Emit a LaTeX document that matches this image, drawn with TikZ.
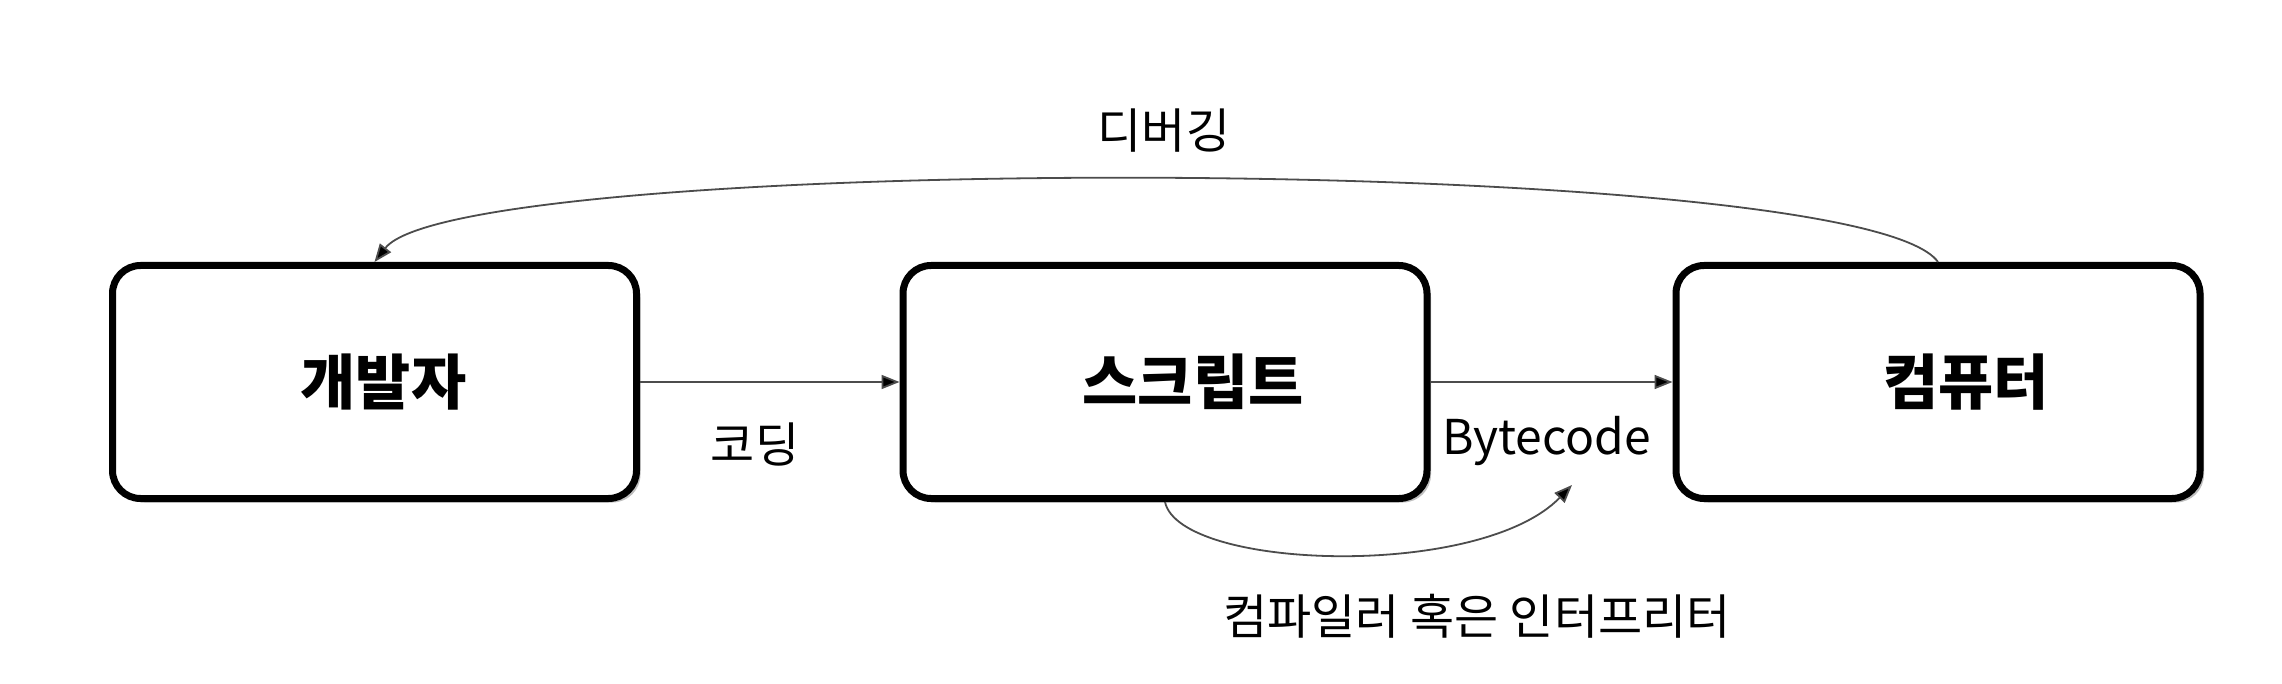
\documentclass[tikz,border=0pt]{standalone}
\usepackage{fontspec}
\setmainfont{Noto Sans CJK KR}
\usetikzlibrary{arrows.meta,shadows}
\begin{document}
\begin{tikzpicture}[x=0.5pt,y=-0.5pt,
  box/.style={draw=black, line width=3.5pt, rounded corners=14pt, fill=white,
    minimum width=262pt, minimum height=116.5pt, inner sep=0pt,
    font=\fontsize{30}{35}\selectfont\bfseries,
    drop shadow={shadow xshift=2pt, shadow yshift=-2pt, opacity=0.25, fill=black}},
  conn/.style={draw=black!70, line width=0.9pt, -{Triangle[length=9pt,width=7pt,fill=black]}},
  lbl/.style={font=\fontsize{24}{28}\selectfont, inner sep=0pt}]
\useasboundingbox (0,0) rectangle (2282,684);
\fill[white] (0,0) rectangle (2282,684);
\node[box] (dev) at (374.5,382) {\hspace*{9pt}개발자};
\node[box] (scr) at (1165,382) {\hspace*{28pt}스크립트};
\node[box] (com) at (1938,382) {\hspace*{28pt}컴퓨터};
\coordinate (bc) at (1572,485);
\draw[conn] (dev.east) -- (scr.west);
\draw[conn] (scr.east) -- (com.west);
\draw[conn] (com.north) .. controls (1860,152) and (460,152) .. (dev.north);
\draw[conn] (scr.south) .. controls (1180,570) and (1480,580) .. (bc);
\node[lbl] (l1) at (755,444) {코딩};
\node[lbl] (l2) at (1547,441) {Bytecode};
\node[lbl] (l3) at (1164,131) {디버깅};
\node[lbl] (l4) at (1477,616) {컴파일러 혹은 인터프리터};
\end{tikzpicture}
\end{document}
